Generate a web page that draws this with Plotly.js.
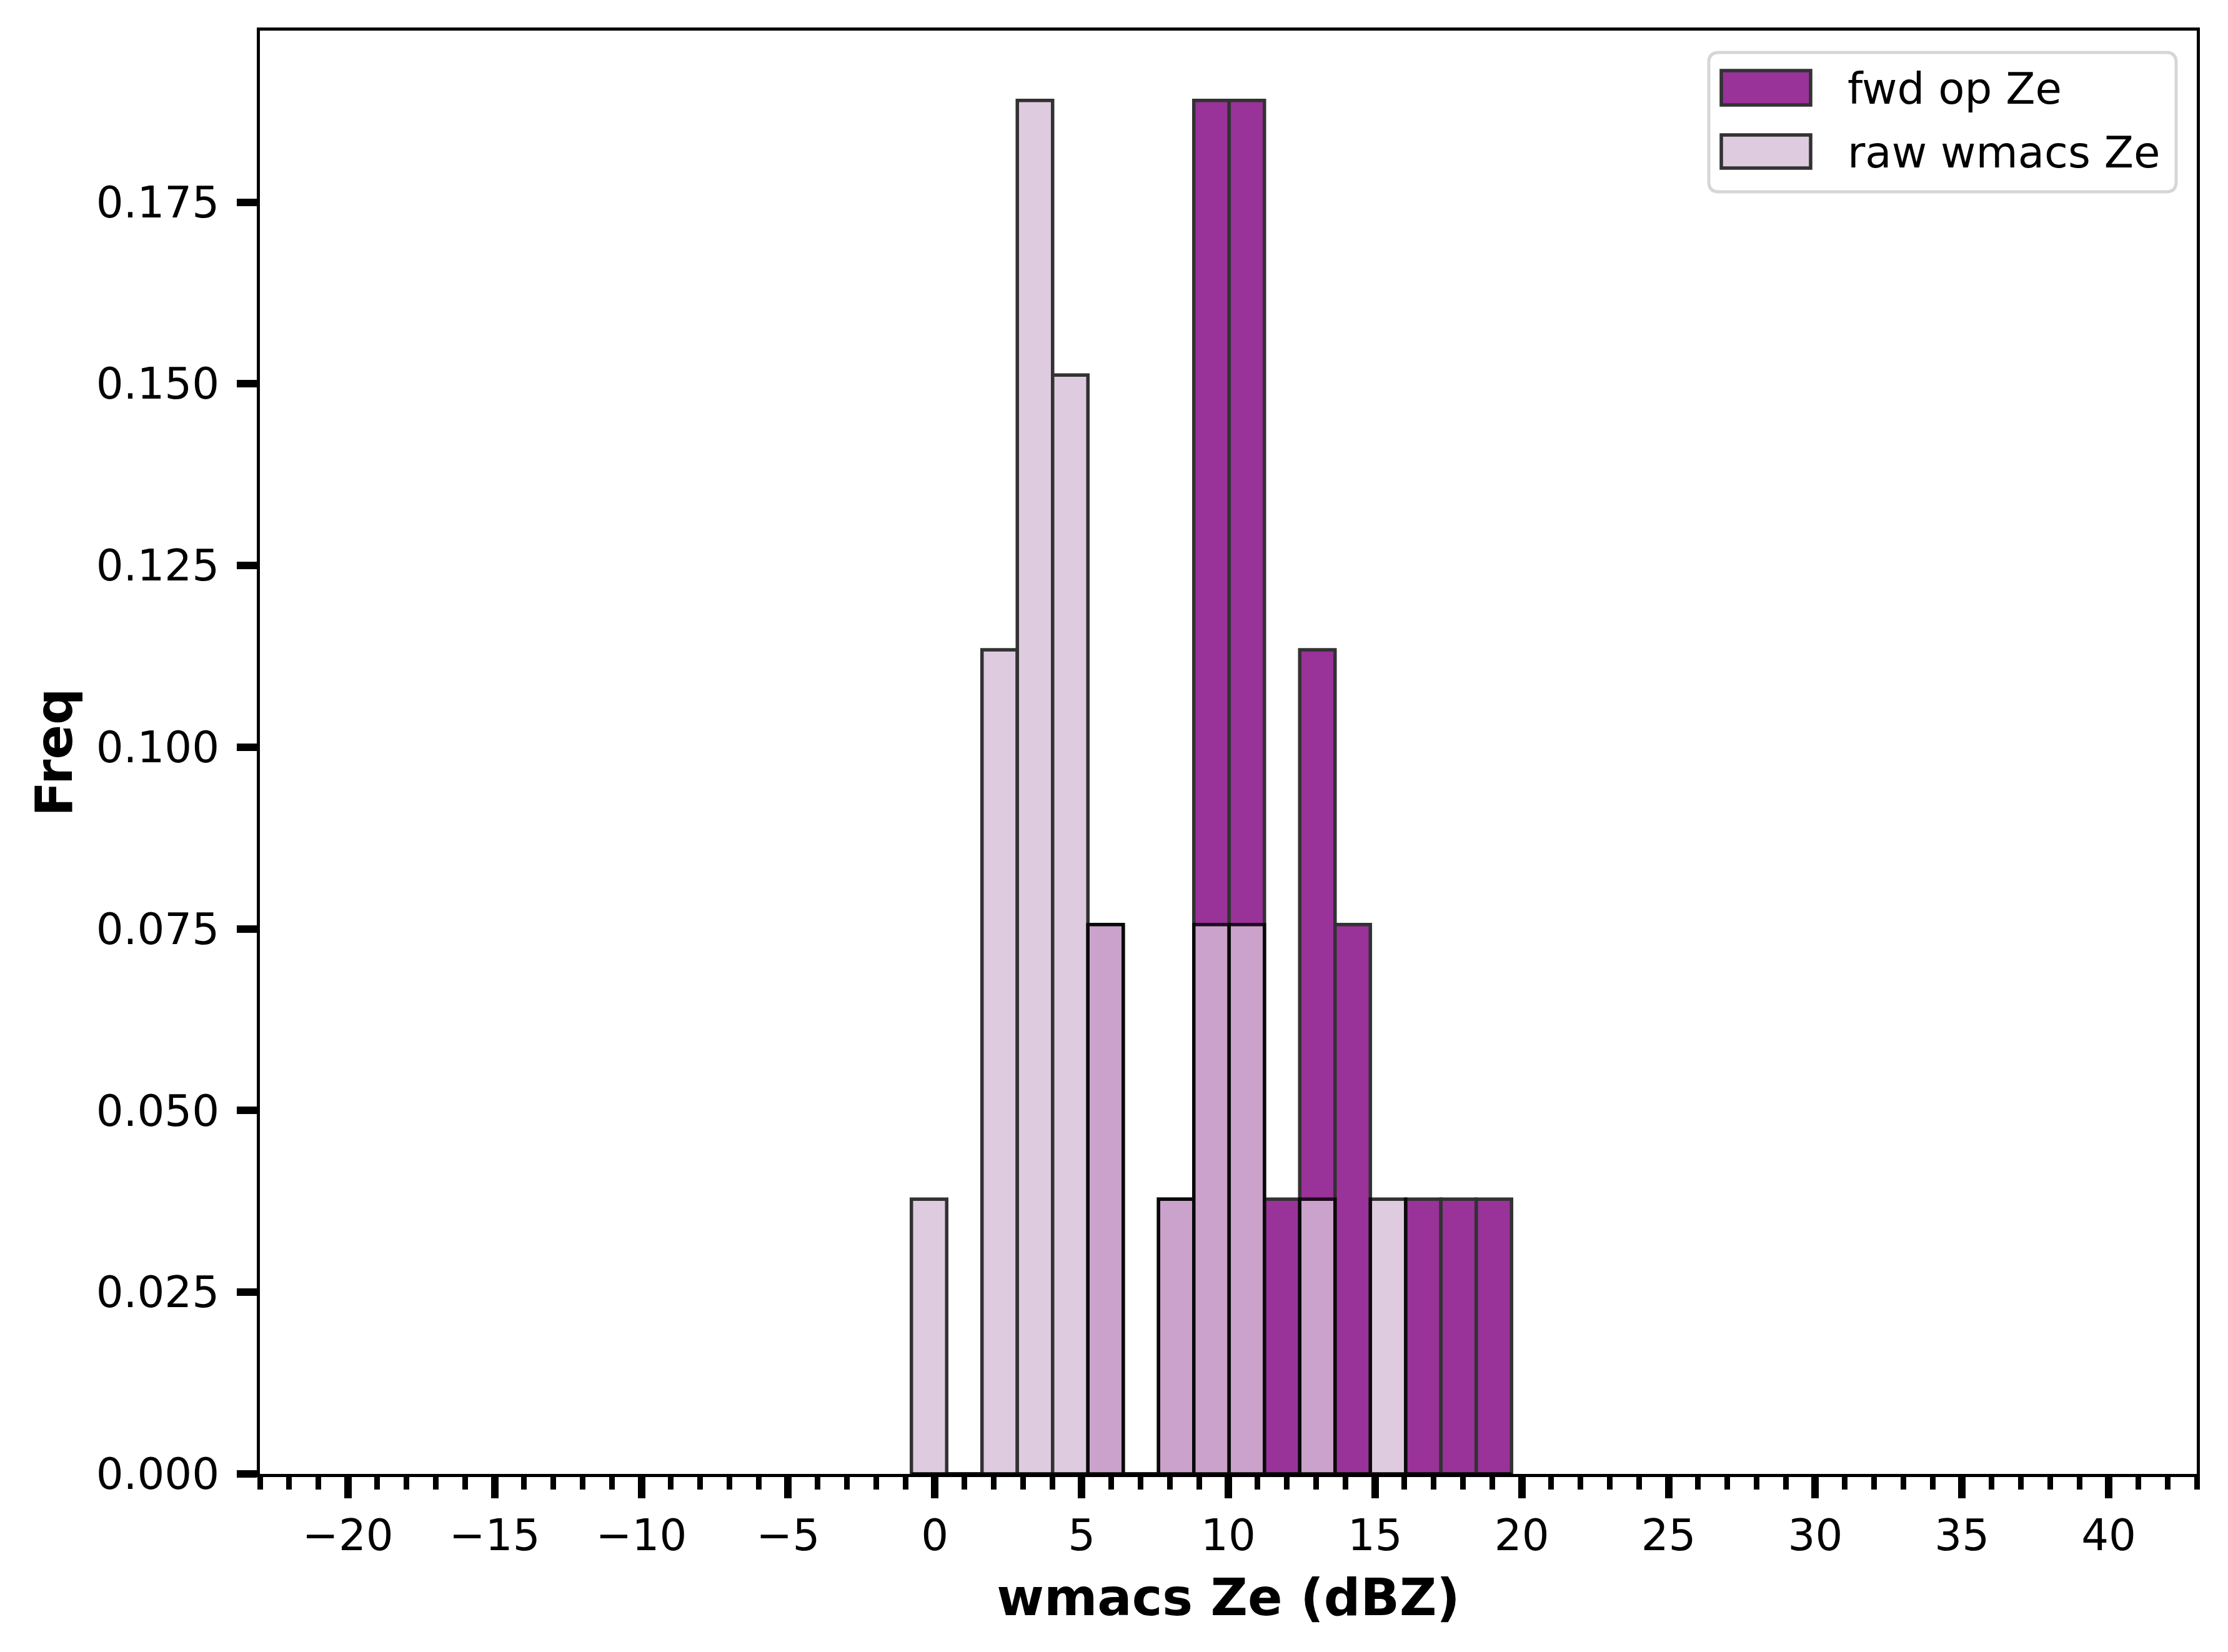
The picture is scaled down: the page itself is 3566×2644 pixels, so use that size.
<!DOCTYPE html>
<html>
<head>
<meta charset="utf-8">
<script src="https://cdn.plot.ly/plotly-3.0.1.min.js"></script>
<style>
  html, body { margin: 0; padding: 0; background: #ffffff; }
  #chart { width: 3566px; height: 2644px; }
</style>
</head>
<body>
<div id="chart"></div>
<script>
// ---- data ----
const binEdges = [-0.800, 0.403, 1.606, 2.809, 4.012, 5.215, 6.418, 7.621, 8.824,
                  10.027, 11.230, 12.433, 13.636, 14.839, 16.042, 17.245, 18.448, 19.651];
const fwdFreq = [0, 0, 0, 0, 0, 0.0756, 0, 0.0378, 0.1890, 0.1890, 0.0378, 0.1134, 0.0756, 0, 0.0378, 0.0378, 0.0378];
const rawFreq = [0.0378, 0, 0.1134, 0.1890, 0.1512, 0.0756, 0, 0.0378, 0.0756, 0.0756, 0, 0.0378, 0, 0.0378, 0, 0, 0];
const seriesNames = ["fwd op Ze", "raw wmacs Ze"];
const xTitle = "wmacs Ze (dBZ)";
const yTitle = "Freq";

// ---- derived ----
const binCenters = binEdges.slice(0, -1).map((e, i) => (e + binEdges[i + 1]) / 2);
const binWidths = binEdges.slice(0, -1).map((e, i) => binEdges[i + 1] - e);

const W = 3566, H = 2644;
const M = { l: 416, r: 50, t: 49, b: 285 };
const PW = W - M.l - M.r, PH = H - M.t - M.b;
const FONT = "DejaVu Sans, Liberation Sans, sans-serif";

const fwdFill = "purple";
const rawFill = "thistle";
const edge = "black";
const alpha = 0.8;

const traces = [
  {
    type: "bar", name: seriesNames[0], x: binCenters, y: fwdFreq, width: binWidths,
    marker: { color: fwdFill, line: { color: edge, width: 5.5 } },
    opacity: alpha, showlegend: false, hoverinfo: "x+y+name"
  },
  {
    type: "bar", name: seriesNames[1], x: binCenters, y: rawFreq, width: binWidths,
    marker: { color: rawFill, line: { color: edge, width: 5.5 } },
    opacity: alpha, showlegend: false, hoverinfo: "x+y+name"
  }
];

// pixel -> paper helpers for the hand-drawn legend (layout only)
const px = v => (v - M.l) / PW;
const py = v => (H - M.b - v) / PH;

function roundRect(x0, y0, x1, y1, r) {
  const X = px, Y = py;
  return `M${X(x0 + r)},${Y(y0)} L${X(x1 - r)},${Y(y0)} Q${X(x1)},${Y(y0)} ${X(x1)},${Y(y0 + r)} ` +
         `L${X(x1)},${Y(y1 - r)} Q${X(x1)},${Y(y1)} ${X(x1 - r)},${Y(y1)} ` +
         `L${X(x0 + r)},${Y(y1)} Q${X(x0)},${Y(y1)} ${X(x0)},${Y(y1 - r)} ` +
         `L${X(x0)},${Y(y0 + r)} Q${X(x0)},${Y(y0)} ${X(x0 + r)},${Y(y0)} Z`;
}

const legendBox = { x0: 2735, y0: 84, x1: 3483, y1: 307 };
const patchX = [2755, 2898];
const rowY = [[113, 168], [216, 269]];
const fills = [fwdFill, rawFill];

const shapes = [
  {
    type: "path", xref: "paper", yref: "paper",
    path: roundRect(legendBox.x0, legendBox.y0, legendBox.x1, legendBox.y1, 16),
    fillcolor: "rgba(255,255,255,0.8)", line: { color: "rgba(204,204,204,0.8)", width: 5 }
  }
];
const annotations = [];
seriesNames.forEach((name, i) => {
  shapes.push({
    type: "rect", xref: "paper", yref: "paper",
    x0: px(patchX[0]), x1: px(patchX[1]), y0: py(rowY[i][1]), y1: py(rowY[i][0]),
    fillcolor: fills[i], opacity: alpha, line: { color: edge, width: 5.5 }
  });
  annotations.push({
    xref: "paper", yref: "paper", x: px(2955), y: py((rowY[i][0] + rowY[i][1]) / 2 + 2),
    xanchor: "left", yanchor: "middle", text: name, showarrow: false,
    font: { family: FONT, size: 69, color: "black" }
  });
});

const layout = {
  width: W, height: H,
  margin: M,
  paper_bgcolor: "white", plot_bgcolor: "white",
  barmode: "overlay", bargap: 0,
  showlegend: false,
  font: { family: FONT, size: 69, color: "black" },
  xaxis: {
    range: [-23, 43], tick0: 0, dtick: 5, tickmode: "linear",
    ticks: "outside", ticklen: 34, tickwidth: 12, tickcolor: "black",
    minor: { tick0: 0, dtick: 1, ticks: "outside", ticklen: 20, tickwidth: 9, tickcolor: "black", showgrid: false },
    showline: true, linecolor: "black", linewidth: 5, mirror: true,
    showgrid: false, zeroline: false,
    tickfont: { family: FONT, size: 69, color: "black" },
    title: { text: xTitle, font: { family: FONT, size: 82, color: "black", weight: "bold" }, standoff: 33 }
  },
  yaxis: {
    range: [0, 0.1986], tick0: 0, dtick: 0.025, tickmode: "linear", tickformat: ".3f",
    ticks: "outside", ticklen: 32, tickwidth: 12, tickcolor: "black",
    ticklabelstandoff: 14,
    showline: true, linecolor: "black", linewidth: 5, mirror: true,
    showgrid: false, zeroline: false,
    tickfont: { family: FONT, size: 69, color: "black" },
    title: { text: yTitle, font: { family: FONT, size: 82, color: "black", weight: "bold" }, standoff: 12 }
  },
  shapes: shapes,
  annotations: annotations
};

Plotly.newPlot("chart", traces, layout, { staticPlot: true, displayModeBar: false });
</script>
</body>
</html>
